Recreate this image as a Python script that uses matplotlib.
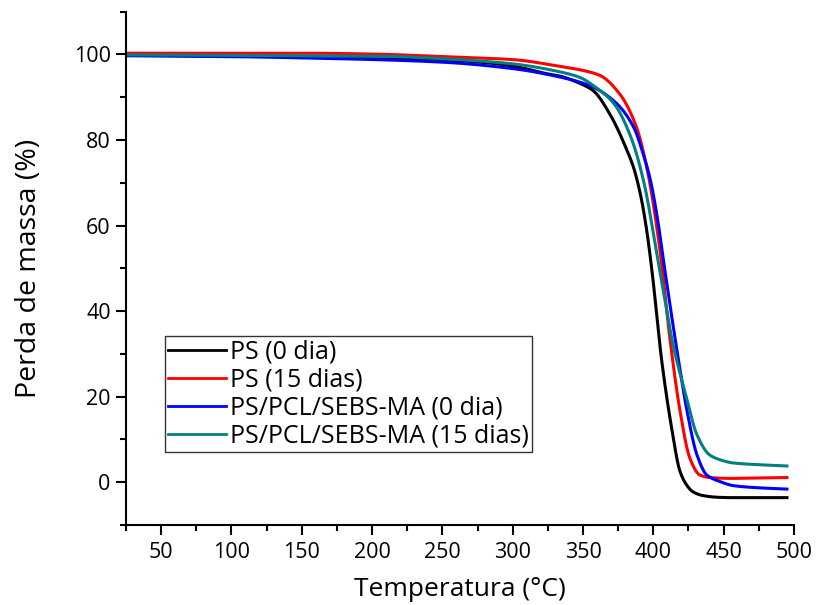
import numpy as np
import matplotlib
matplotlib.use('Agg')
import matplotlib.pyplot as plt
from matplotlib.ticker import MultipleLocator

plt.rcParams['font.family'] = ['Open Sans', 'DejaVu Sans']

# values (temperature in C, mass in %)
t_ps0 = [25, 100, 150, 200, 250, 277, 300, 324, 334, 348, 357, 369, 381, 386, 391, 395, 399,
         406, 413, 419, 424, 428, 435, 445, 455, 475, 495]
m_ps0 = [99.8, 99.7, 99.4, 99.0, 98.7, 98.2, 97.3, 95.5, 94.9, 93.2, 91.6, 86.1, 77.8, 73.5, 67.0, 59.5, 49.5,
         28.3, 12.7, 2.5, -0.8, -2.2, -3.1, -3.5, -3.6, -3.6, -3.6]

t_ps15 = [25, 100, 150, 200, 250, 300, 334, 348, 362, 376, 388, 396, 405, 412,
          419, 426, 433, 440, 455, 475, 495]
m_ps15 = [100.3, 100.3, 100.3, 100.1, 99.5, 98.8, 97.2, 96.4, 95.1, 90.8, 83.0, 72.5, 53.5, 33.0,
          16.6, 5.6, 1.7, 1.1, 0.9, 1.0, 1.1]

t_blend0 = [25, 100, 150, 191, 250, 300, 334, 348, 357, 374, 386, 393, 398, 403, 408,
            418, 424, 431, 438, 447, 457, 475, 495]
m_blend0 = [99.7, 99.5, 99.2, 98.9, 98.2, 96.7, 94.7, 93.5, 92.4, 88.5, 83.0, 76.5, 70.5, 61.5, 50.0,
            28.3, 16.6, 6.4, 1.7, 0.2, -0.8, -1.3, -1.6]

t_blend15 = [25, 100, 150, 205, 250, 300, 334, 348, 357, 372, 384, 393, 404,
             414, 423, 431, 440, 447, 457, 475, 495]
m_blend15 = [99.9, 99.8, 99.7, 99.6, 99.0, 97.8, 95.9, 94.6, 92.8, 88.5, 80.7, 70.5, 50.5,
             32.2, 20.5, 11.1, 6.4, 5.3, 4.5, 4.1, 3.8]

labels = ['PS (0 dia)', 'PS (15 dias)', 'PS/PCL/SEBS-MA (0 dia)', 'PS/PCL/SEBS-MA (15 dias)']
colors = ['black', '#ff0000', '#0000ff', '#008080']


def smooth(t, m):
    # monotone cubic interpolation between the read points, just for a smooth line
    t = np.asarray(t, float)
    m = np.asarray(m, float)
    h = np.diff(t)
    d = np.diff(m) / h
    k = np.zeros_like(m)
    k[0], k[-1] = d[0], d[-1]
    for i in range(1, len(m) - 1):
        if d[i - 1] * d[i] > 0:
            w1 = 2 * h[i] + h[i - 1]
            w2 = h[i] + 2 * h[i - 1]
            k[i] = (w1 + w2) / (w1 / d[i - 1] + w2 / d[i])
    tt = np.linspace(t[0], t[-1], 1500)
    idx = np.clip(np.searchsorted(t, tt) - 1, 0, len(h) - 1)
    s = (tt - t[idx]) / h[idx]
    h00 = 2 * s**3 - 3 * s**2 + 1
    h10 = s**3 - 2 * s**2 + s
    h01 = -2 * s**3 + 3 * s**2
    h11 = s**3 - s**2
    mm = h00 * m[idx] + h10 * h[idx] * k[idx] + h01 * m[idx + 1] + h11 * h[idx] * k[idx + 1]
    return tt, mm


fig = plt.figure(figsize=(8.16, 6.05), dpi=100)
ax = fig.add_axes([0.1544, 0.1322, 0.8186, 0.8485])

series = [(t_ps0, m_ps0), (t_ps15, m_ps15), (t_blend0, m_blend0), (t_blend15, m_blend15)]
for (t, m), lab, c in zip(series, labels, colors):
    tt, mm = smooth(t, m)
    ax.plot(tt, mm, color=c, lw=2.2, label=lab)

ax.set_xlim(25, 500)
ax.set_ylim(-10, 110)
ax.xaxis.set_major_locator(MultipleLocator(50))
ax.xaxis.set_minor_locator(MultipleLocator(25))
ax.yaxis.set_major_locator(MultipleLocator(20))
ax.yaxis.set_minor_locator(MultipleLocator(10))
ax.set_xticks([50, 100, 150, 200, 250, 300, 350, 400, 450, 500])

for s in ['top', 'right']:
    ax.spines[s].set_visible(False)
for s in ['left', 'bottom']:
    ax.spines[s].set_linewidth(1.5)

ax.tick_params(which='major', direction='out', length=7, width=1.5, labelsize=15.5, pad=4)
ax.tick_params(which='minor', direction='out', length=4, width=1.5)
ax.tick_params(axis='x', which='major', pad=5)

ax.set_xlabel('Temperatura (°C)', fontsize=19, labelpad=10)
ax.set_ylabel('Perda de massa (%)', fontsize=20.5, labelpad=22)

leg = ax.legend(loc='lower left', bbox_to_anchor=(0.058, 0.142), borderaxespad=0,
                fontsize=18, frameon=True, fancybox=False, edgecolor='black',
                handlelength=2.3, handletextpad=0.15, labelspacing=0.12,
                borderpad=0.15)
leg.get_frame().set_linewidth(1.0)
for line in leg.get_lines():
    line.set_linewidth(2.0)

fig.savefig('out.png', dpi=100)
